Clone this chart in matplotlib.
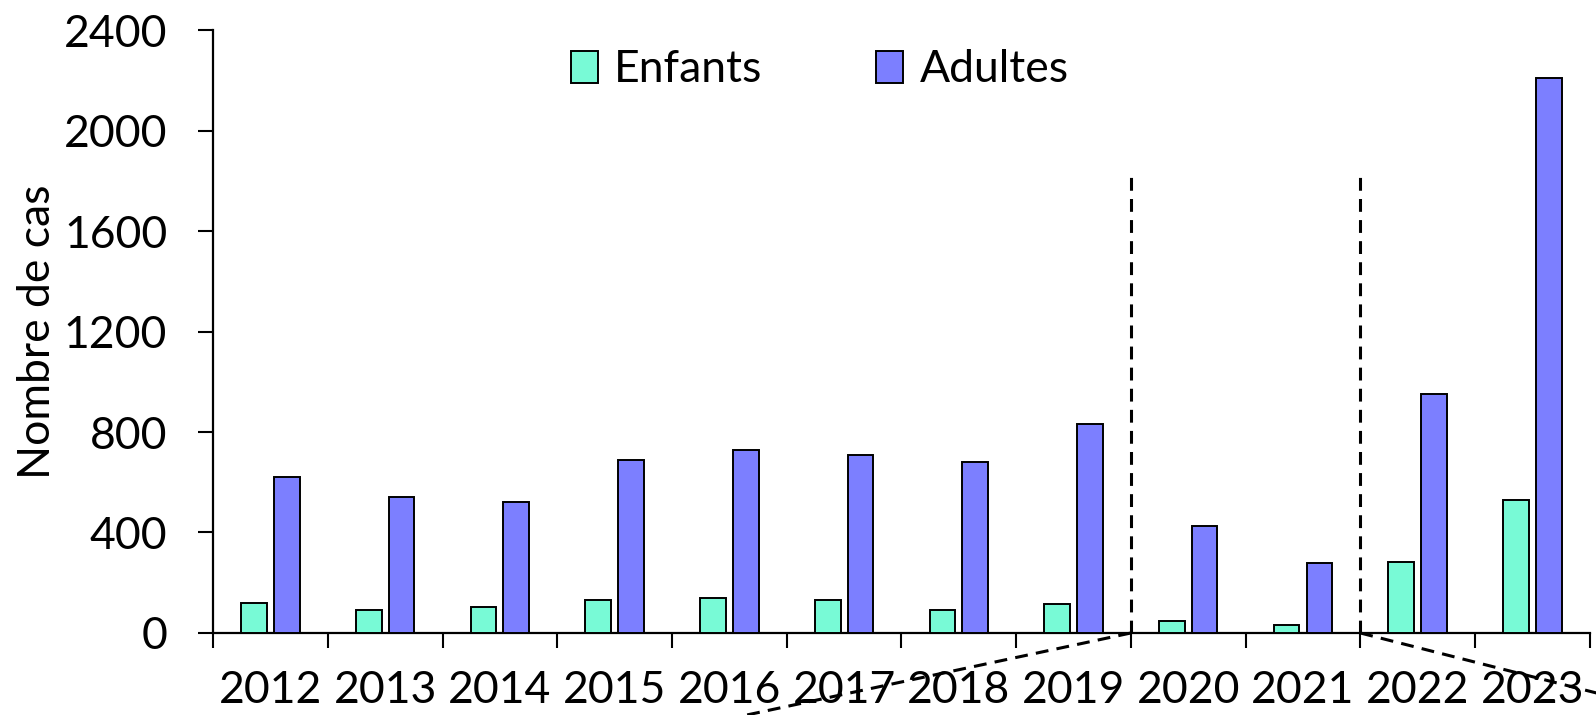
import matplotlib
matplotlib.use("Agg")
import matplotlib.pyplot as plt
import numpy as np

plt.rcParams['font.family'] = ['Lato', 'DejaVu Sans']

# Nombre de cas par année
annees = ["2012", "2013", "2014", "2015", "2016", "2017",
          "2018", "2019", "2020", "2021", "2022", "2023"]
enfants = [120, 90, 104, 130, 140, 130, 90, 115, 46, 33, 284, 530]
adultes = [620, 540, 520, 690, 730, 710, 680, 830, 425, 280, 950, 2210]

# ruptures de série (entre 2019/2020 et 2021/2022)
ruptures = [7.5, 9.5]

FS = 32

fig = plt.figure(figsize=(15.96, 7.15), dpi=100)
ax = fig.add_axes([0.1335, 0.1147, 0.8626, 0.8433])

x = np.arange(len(annees))
w = 0.224
off = 0.143
ax.bar(x - off, enfants, w, color='#78FAD6', edgecolor='black', linewidth=1.4,
       label='Enfants', zorder=3)
ax.bar(x + off, adultes, w, color='#7C7FFF', edgecolor='black', linewidth=1.4,
       label='Adultes', zorder=3)

ax.set_xlim(-0.5, len(annees) - 0.5)
ax.set_ylim(0, 2400)
ax.set_yticks(np.arange(0, 2401, 400))

# ticks aux limites des catégories, étiquettes au centre
ax.set_xticks(np.arange(-0.5, len(annees), 1.0))
ax.set_xticklabels([])
ax.set_xticks(x, minor=True)
ax.set_xticklabels(annees, minor=True)
ax.tick_params(axis='x', which='major', length=11, width=1.5, direction='out')
ax.tick_params(axis='x', which='minor', length=0, pad=26.5, labelsize=FS)
ax.tick_params(axis='y', length=11, width=1.5, direction='out', labelsize=FS, pad=22)

for s in ['top', 'right']:
    ax.spines[s].set_visible(False)
for s in ['left', 'bottom']:
    ax.spines[s].set_linewidth(1.6)

fig.text(38 / 1596, 0.5364, "Nombre de cas", fontsize=FS, rotation=90,
         ha='center', va='center')

# lignes de rupture
tirets = (0, (4.2, 2.7))
for r in ruptures:
    ax.plot([r, r], [0, 1820], color='black', lw=2.2, ls=tirets, zorder=4)
ax.plot([ruptures[0], ruptures[0] - 4.0], [0, -390], color='black', lw=2.2,
        ls=tirets, clip_on=False, zorder=4)
ax.plot([ruptures[1], ruptures[1] + 2.5], [0, -290], color='black', lw=2.2,
        ls=tirets, clip_on=False, zorder=4)

leg = ax.legend(loc='center', bbox_to_anchor=(0.5135, 0.9025),
                bbox_transform=fig.transFigure, ncol=2, frameon=False,
                fontsize=FS, handlelength=0.62, handleheight=0.72,
                handletextpad=0.36, columnspacing=2.55)

fig.savefig("out.png", dpi=100)
